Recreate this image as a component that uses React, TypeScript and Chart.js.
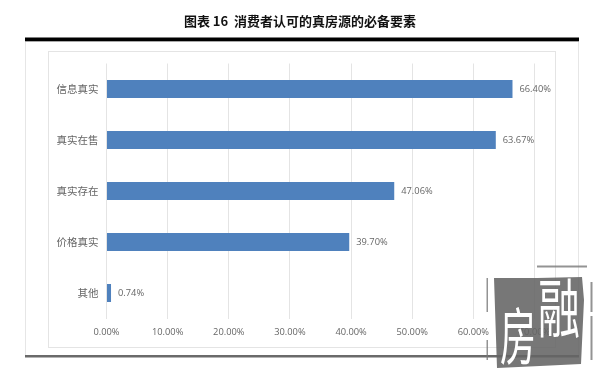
import React, { useEffect, useRef } from "react";
import { Chart, registerables } from "chart.js";

Chart.register(...registerables);

const titleText = "图表 16  消费者认可的真房源的必备要素";
const categories = ["信息真实", "真实在售", "真实存在", "价格真实", "其他"];
const shares = [66.4, 63.67, 47.06, 39.7, 0.74];
const axisMax = 70;
const axisStep = 10;
const sealChars = ["融", "房"];

const CJK = '"Noto Sans CJK SC", "Noto Sans", sans-serif';
const LATIN = '"Open Sans", "Noto Sans", sans-serif';

const framePlugin = {
  id: "frame",
  beforeDraw(chart: any) {
    const { ctx } = chart;
    ctx.save();
    ctx.fillStyle = "#ffffff";
    ctx.fillRect(0, 0, 600, 377);
    ctx.strokeStyle = "#e6e6e6";
    ctx.lineWidth = 1;
    ctx.beginPath();
    ctx.moveTo(25.5, 42);
    ctx.lineTo(25.5, 355);
    ctx.moveTo(578.5, 42);
    ctx.lineTo(578.5, 355);
    ctx.stroke();
    ctx.strokeStyle = "#e4e4e4";
    ctx.strokeRect(48.5, 51.5, 507, 296);
    ctx.fillStyle = "#000000";
    ctx.fillRect(25, 37.5, 554, 3.5);
    ctx.fillStyle = "#a8a8a8";
    ctx.fillRect(25, 41, 554, 1);
    ctx.fillStyle = "#6a6a6a";
    ctx.fillRect(25, 355, 554, 2.5);
    ctx.restore();
  },
};

const valueLabelPlugin = {
  id: "valueLabels",
  afterDatasetsDraw(chart: any) {
    const { ctx } = chart;
    const meta = chart.getDatasetMeta(0);
    ctx.save();
    ctx.fillStyle = "#666666";
    ctx.font = `9.3px ${LATIN}`;
    ctx.textAlign = "left";
    ctx.textBaseline = "middle";
    meta.data.forEach((bar: any, i: number) => {
      ctx.fillText(`${shares[i].toFixed(2)}%`, bar.x + 7, bar.y + 0.5);
    });
    ctx.restore();
  },
};

const sealPlugin = {
  id: "seal",
  afterDraw(chart: any) {
    const { ctx } = chart;
    ctx.save();
    ctx.fillStyle = "rgba(100,100,100,0.88)";
    ctx.beginPath();
    ctx.moveTo(494, 278);
    ctx.lineTo(537, 278);
    ctx.lineTo(582, 277);
    ctx.lineTo(584, 300);
    ctx.lineTo(581, 364);
    ctx.lineTo(540, 366);
    ctx.lineTo(497, 368);
    ctx.closePath();
    ctx.fill();
    ctx.fillStyle = "rgba(120,120,120,0.8)";
    ctx.fillRect(537, 265.5, 50, 2);
    ctx.fillRect(486.5, 278, 1.5, 34);
    ctx.fillRect(486.5, 340, 1.5, 20);
    ctx.fillRect(590.5, 282, 2, 30);
    ctx.fillRect(590.5, 316, 2, 44);
    ctx.fillStyle = "#ffffff";
    ctx.strokeStyle = "#ffffff";
    ctx.lineWidth = 0.5;
    ctx.textAlign = "center";
    ctx.textBaseline = "middle";
    ctx.font = `400 40px ${CJK}`;
    ctx.save();
    ctx.translate(559, 308);
    ctx.scale(1.05, 1.6);
    ctx.fillText(sealChars[0], 0, 0);
    ctx.restore();
    ctx.save();
    ctx.translate(518, 336);
    ctx.scale(0.9, 1.55);
    ctx.fillText(sealChars[1], 0, 0);
    ctx.restore();
    ctx.restore();
  },
};

export default function App() {
  const ref = useRef<HTMLCanvasElement>(null);

  useEffect(() => {
    document.body.style.margin = "0";
    const chart = new Chart(ref.current!, {
      type: "bar",
      data: {
        labels: categories,
        datasets: [
          {
            data: shares,
            backgroundColor: "#4f81bd",
            categoryPercentage: 1,
            barPercentage: 0.35,
          },
        ],
      },
      plugins: [framePlugin, valueLabelPlugin, sealPlugin],
      options: {
        indexAxis: "y",
        responsive: false,
        animation: false,
        layout: { padding: 0 },
        plugins: {
          legend: { display: false },
          tooltip: { enabled: false },
          title: {
            display: true,
            text: titleText,
            color: "#111111",
            font: { family: CJK, size: 13, weight: "bold", lineHeight: 1.2 },
            padding: { top: 13, bottom: 34.9 },
          },
        },
        scales: {
          x: {
            min: 0,
            max: axisMax,
            afterFit(scale: any) {
              scale.height = 58.5;
            },
            border: { display: false },
            grid: { color: "#e4e4e4", lineWidth: 1, drawTicks: false },
            ticks: {
              stepSize: axisStep,
              maxRotation: 0,
              padding: 8,
              color: "#666666",
              font: { family: LATIN, size: 9.3 },
              callback: (v: any) => `${Number(v).toFixed(2)}%`,
            },
          },
          y: {
            afterFit(scale: any) {
              scale.width = 106.5;
            },
            border: { display: false },
            grid: { display: false },
            ticks: {
              padding: 0,
              color: "#666666",
              font: { family: CJK, size: 10.5 },
            },
          },
          yRightGutter: {
            type: "category",
            position: "right",
            afterFit(scale: any) {
              scale.width = 65.5;
            },
            border: { display: false },
            grid: { display: false },
            ticks: { display: false },
          },
        },
      },
    } as any);
    return () => chart.destroy();
  }, []);

  return <canvas ref={ref} width={600} height={377} style={{ display: "block" }} />;
}
